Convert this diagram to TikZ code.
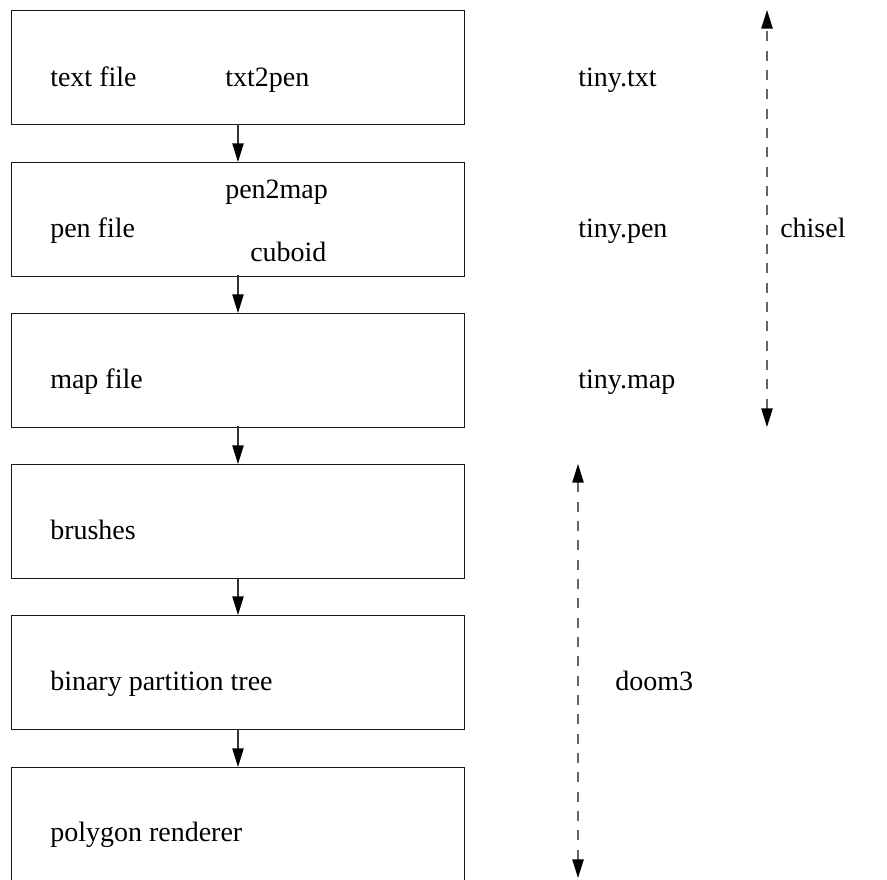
\documentclass[tikz,border=0pt]{standalone}
\usepackage{fontspec}
\setmainfont{Liberation Serif}
\usetikzlibrary{arrows.meta}
\begin{document}
\begin{tikzpicture}[x=0.75pt,y=-0.75pt,
  box/.style={draw=black!90,line width=1pt,minimum width=453*0.75pt,minimum height=114*0.75pt,inner sep=0pt,anchor=north west},
  lbl/.style={font=\fontsize{21}{25}\selectfont,inner sep=0pt,anchor=base west},
  flow/.style={draw=black!80,line width=1pt,-{Triangle[length=14pt,width=8.5pt,color=black]}},
  span/.style={draw=black!60,line width=1.1pt,dash pattern=on 7.5pt off 7pt,{Triangle[length=14pt,width=8.5pt,color=black]}-{Triangle[length=14pt,width=8.5pt,color=black]}}]
\useasboundingbox (0,0) rectangle (887,879);
\node[box] (b1) at (11,10) {};
\node[box] (b2) at (11,162) {};
\node[box] (b3) at (11,313) {};
\node[box] (b4) at (11,464) {};
\node[box] (b5) at (11,615) {};
\node[box,minimum height=130*0.75pt] (b6) at (11,767) {};
\coordinate (a1s) at (238,124); \coordinate (a1e) at (238,162);
\coordinate (a2s) at (238,275); \coordinate (a2e) at (238,313);
\coordinate (a3s) at (238,426); \coordinate (a3e) at (238,464);
\coordinate (a4s) at (238,578); \coordinate (a4e) at (238,615);
\coordinate (a5s) at (238,729); \coordinate (a5e) at (238,767);
\draw[flow] (a1s) -- (a1e);
\draw[flow] (a2s) -- (a2e);
\draw[flow] (a3s) -- (a3e);
\draw[flow] (a4s) -- (a4e);
\draw[flow] (a5s) -- (a5e);
\coordinate (c1) at (767,10); \coordinate (c2) at (767,427);
\coordinate (d1) at (578,464); \coordinate (d2) at (578,878);
\draw[span] (c2) -- (c1);
\draw[span] (d2) -- (d1);
\node[lbl] (t1) at (50,86) {text file};
\node[lbl] (t2) at (225,86) {txt2pen};
\node[lbl] (t3) at (578,86) {tiny.txt};
\node[lbl] (p0) at (225,198) {pen2map};
\node[lbl] (p1) at (50,237) {pen file};
\node[lbl] (p2) at (250,261) {cuboid};
\node[lbl] (p3) at (578,237) {tiny.pen};
\node[lbl] (ch) at (780,237) {chisel};
\node[lbl] (m1) at (50,388) {map file};
\node[lbl] (m2) at (578,388) {tiny.map};
\node[lbl] (br) at (50,539) {brushes};
\node[lbl] (bp) at (50,690) {binary partition tree};
\node[lbl] (dm) at (615,690) {doom3};
\node[lbl] (pr) at (50,841) {polygon renderer};
\end{tikzpicture}
\end{document}
